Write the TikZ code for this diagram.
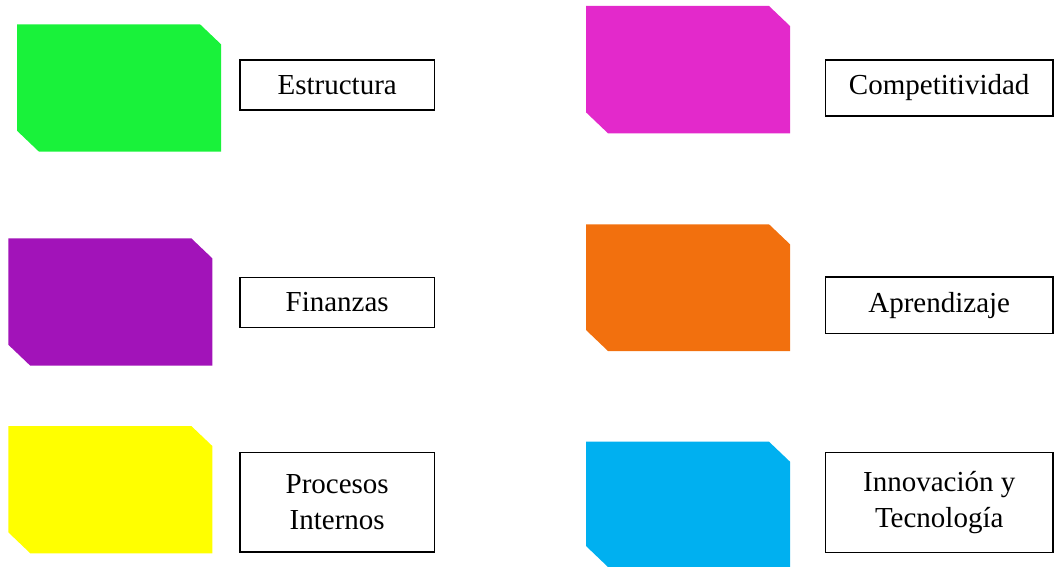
\documentclass[tikz,border=0pt]{standalone}
\usepackage{fontspec}
\setmainfont{Liberation Serif}
\definecolor{cgreen}{HTML}{19F23A}
\definecolor{cmagenta}{HTML}{E329CB}
\definecolor{cpurple}{HTML}{A213B9}
\definecolor{corange}{HTML}{F2700E}
\definecolor{cyellow}{HTML}{FFFF00}
\definecolor{ccyan}{HTML}{00B0F0}
\newcommand{\cutshape}[5]{%
  \fill[#5] (#1,#2) -- ({#3-21},#2) -- (#3,{#2+20}) -- (#3,#4) -- ({#1+22},#4) -- (#1,{#4-21}) -- cycle;}
\begin{document}
\begin{tikzpicture}[x=1pt,y=-1pt,
  lbl/.style={draw=black, line width=1.5pt, inner sep=0pt, align=center,
    font=\fontsize{29}{36.5}\selectfont}]
\useasboundingbox (0,0) rectangle (1055,567);
\cutshape{17}{24.3}{221}{151.7}{cgreen}
\cutshape{586}{6}{790}{133.3}{cmagenta}
\cutshape{8.3}{238.3}{212.3}{365.7}{cpurple}
\cutshape{586}{224.3}{790}{351}{corange}
\cutshape{8.3}{426}{212.3}{553.3}{cyellow}
\cutshape{586}{441.7}{790}{567}{ccyan}
\node[lbl, minimum width=194.2pt, minimum height=50.2pt] (estr) at (337.2,84.9) {Estructura};
\node[lbl, minimum width=194.2pt, minimum height=50.2pt] (fin) at (337.2,302.5) {Finanzas};
\node[lbl, minimum width=194.2pt, minimum height=99.5pt] (proc) at (337.2,502.2) {Procesos\\Internos};
\node[lbl, minimum width=227.5pt, minimum height=56.2pt] (comp) at (939.2,87.9) {Competitividad};
\node[lbl, minimum width=227.5pt, minimum height=56.8pt] (apr) at (939.2,305.2) {Aprendizaje};
\node[lbl, minimum width=227.5pt, minimum height=100.1pt] (inn) at (939.2,502.5) {Innovación y\\Tecnología};
\end{tikzpicture}
\end{document}
